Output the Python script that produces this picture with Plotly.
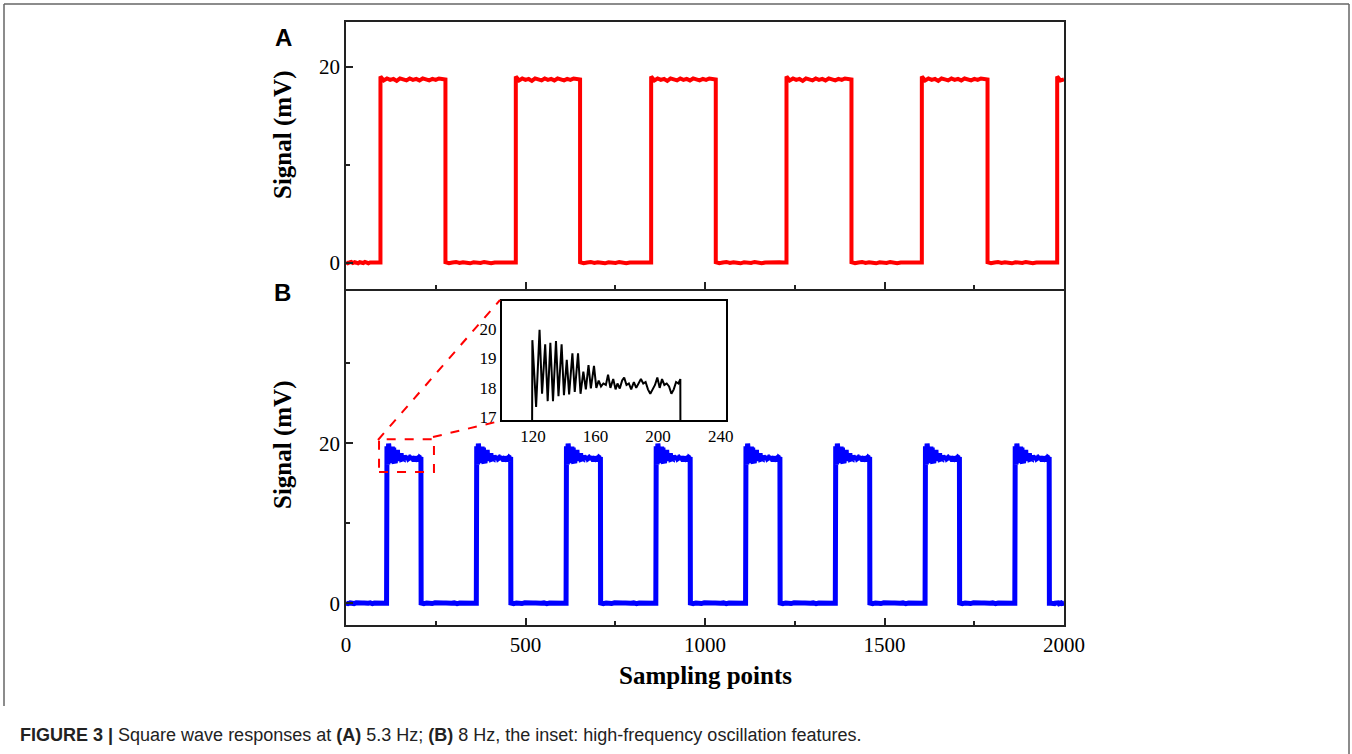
import plotly.graph_objects as go

# ---------------- data ----------------
# Panel A (5.3 Hz): rising / falling edges (sampling points) and levels (mV)
A_rise = [96, 473, 850, 1227, 1604, 1981]
A_fall = [277, 652, 1030, 1408, 1787]
A_top_y = [19.0, 18.6, 18.8, 18.65, 18.75, 18.55, 18.8, 18.7, 18.6, 18.8,
           18.65, 18.75, 18.6, 18.8, 18.7, 18.6, 18.75, 18.65, 18.8, 18.7]
A_low_y = [0.05, -0.05, 0.03, 0.08, -0.03, 0.05, 0.0, -0.06, 0.05, 0.02,
           -0.03, 0.08, 0.0, -0.05, 0.03, 0.05, -0.03, 0.0, 0.05, 0.03]

# Panel B (8 Hz): rising edges and baseline
B_rise = [113, 363, 613, 863, 1113, 1363, 1613, 1863]
B_low_y = [0.03, -0.05, 0.05, 0.0, -0.03, 0.06, 0.0, -0.05, 0.03, 0.05,
           -0.03, 0.0, 0.05, -0.05, 0.03, 0.0, 0.05, -0.03, 0.03, 0.0]

# Inset: one pulse top (high-frequency oscillation)
inset_x = [100, 118.5, 119.6, 122.0, 124.2, 125.8, 127.8, 129.4, 131.1, 132.8,
           134.7, 136.3, 138.3, 139.8, 141.6, 143.1, 145.2, 146.7, 148.8, 150.4,
           152.2, 153.8, 155.5, 157.0, 159.0, 160.5, 162.0, 163.5, 165.0, 166.6,
           168.0, 169.5, 171.3, 172.8, 174.0, 175.5, 177.0, 178.3, 179.8, 181.3,
           182.8, 184.5, 186.0, 187.5, 189.0, 190.5, 192.0, 193.5, 195.0, 196.5,
           198.0, 199.5, 201.0, 202.5, 204.0, 205.5, 207.0, 208.5, 210.0, 211.5,
           213.0, 214.2, 214.8, 240]
inset_y = [0.05, 0.1, 19.62, 17.35, 19.97, 17.8, 19.48, 17.55, 19.53, 17.55,
           19.59, 17.72, 19.48, 17.75, 18.95, 17.78, 19.17, 17.86, 19.17, 17.8,
           18.55, 17.95, 18.77, 17.98, 18.75, 18.0, 18.25, 18.05, 18.15, 18.1,
           18.45, 18.0, 18.3, 17.95, 18.15, 17.98, 18.25, 18.35, 18.1, 18.15,
           17.95, 18.2, 18.0, 18.15, 18.3, 18.15, 18.2, 17.95, 17.8, 17.95,
           18.1, 18.35, 18.0, 18.3, 18.1, 18.15, 18.05, 17.8, 17.95, 18.2,
           18.15, 18.3, 0.1, 0.05]

x_ticks = [0, 500, 1000, 1500, 2000]
y_ticks = [0, 20]
inset_xticks = [120, 160, 200, 240]
inset_yticks = [17, 18, 19, 20]

# ---------------- build waveforms ----------------
def plateau(x0, x1, ys):
    n = len(ys)
    return [x0 + (x1 - x0) * i / n for i in range(n)], list(ys)

ax_, ay_ = [], []
edges = [0]
for i, r in enumerate(A_rise):
    px, py = plateau(edges[-1], r, A_low_y)
    ax_ += px + [r]; ay_ += py + [A_low_y[-1]]
    if i < len(A_fall):
        end = A_fall[i]
        px, py = plateau(r, end, A_top_y)
    else:
        end = 2000
        px, py = [r, 1990], [A_top_y[0], A_top_y[1]]
    ax_ += px + [end]; ay_ += py + [A_top_y[-1]]
    edges.append(end)

rise0 = inset_x[1]
top_x = [x for x, y in zip(inset_x, inset_y) if y > 10]
top_y = [y for y in inset_y if y > 10]
fall_off = inset_x[-2] - rise0
bx_, by_ = [], []
prev = 0
for r in B_rise:
    px, py = plateau(prev, r, B_low_y)
    bx_ += px + [r]; by_ += py + [B_low_y[-1]]
    bx_ += [r + (x - rise0) for x in top_x]; by_ += top_y
    f = r + fall_off
    bx_ += [f]; by_ += [B_low_y[0]]
    prev = f
px, py = plateau(prev, 2000, B_low_y)
bx_ += px + [2000]; by_ += py + [B_low_y[-1]]

# ---------------- layout geometry (pixels) ----------------
W, H = 1352, 754
L, R, T, B = 346, 1064, 22, 625
SPLIT = 289
pw, ph = R - L, B - T

def pxx(p):
    return (p - L) / pw

def pxy(p):
    return (B - p) / ph

dA = [pxy(SPLIT), 1.0]
dB = [0.0, pxy(SPLIT)]

fig = go.Figure()
fig.add_trace(go.Scatter(x=ax_, y=ay_, mode="lines", line=dict(color="#ff0000", width=4),
                         xaxis="x", yaxis="y", showlegend=False))
fig.add_trace(go.Scatter(x=bx_, y=by_, mode="lines", line=dict(color="#0000ff", width=5),
                         xaxis="x2", yaxis="y2", showlegend=False))
fig.add_trace(go.Scatter(x=inset_x, y=inset_y, mode="lines", line=dict(color="black", width=2),
                         xaxis="x3", yaxis="y3", showlegend=False))

tickfont = dict(family="Liberation Serif", size=21, color="black")
base = dict(showline=True, linecolor="#222", linewidth=1.5, showgrid=False, zeroline=False)
tk = dict(ticks="inside", ticklen=7, tickcolor="#222", tickwidth=1.5)

fig.update_layout(
    width=W, height=H, margin=dict(l=L, r=W - R, t=T, b=H - B),
    paper_bgcolor="white", plot_bgcolor="white",
    xaxis=dict(domain=[0, 1], range=[0, 2000], anchor="y", tickvals=x_ticks, showticklabels=False,
               mirror=True,
               minor=dict(dtick=250, tick0=0, ticks="inside", ticklen=4, tickcolor="#222"), **tk, **base),
    yaxis=dict(domain=dA, range=[-2.68, 24.56], anchor="x", tickvals=y_ticks, tickfont=tickfont,
               mirror=True,
               minor=dict(dtick=10, tick0=0, ticks="inside", ticklen=4, tickcolor="#222"), **tk, **base),
    xaxis2=dict(domain=[0, 1], range=[0, 2000], anchor="y2", tickvals=x_ticks, tickfont=tickfont,
                mirror=False,
                minor=dict(dtick=250, tick0=0, ticks="inside", ticklen=4, tickcolor="#222"), **tk, **base),
    yaxis2=dict(domain=dB, range=[-2.71, 39.29], anchor="x2", tickvals=y_ticks, tickfont=tickfont,
                mirror=True,
                minor=dict(dtick=10, tick0=0, ticks="inside", ticklen=4, tickcolor="#222"), **tk, **base),
    xaxis3=dict(domain=[pxx(501.7), pxx(726)], range=[100, 243.4], anchor="y3", tickvals=inset_xticks,
                ticks="", tickfont=dict(family="Liberation Serif", size=17, color="black"),
                showline=True, linecolor="black", linewidth=1.5, mirror=True, showgrid=False, zeroline=False),
    yaxis3=dict(domain=[pxy(420), pxy(301)], range=[16.91, 20.95], anchor="x3", tickvals=inset_yticks,
                ticks="", tickfont=dict(family="Liberation Serif", size=17, color="black"),
                showline=True, linecolor="black", linewidth=1.5, mirror=True, showgrid=False, zeroline=False),
)

shapes = [
    dict(type="rect", xref="x2", yref="y2", x0=92, x1=245, y0=16.4, y1=20.5,
         line=dict(color="#ff0000", width=2, dash="dash")),
    dict(type="line", xref="paper", yref="paper", x0=pxx(378), y0=pxy(440), x1=pxx(500), y1=pxy(300),
         line=dict(color="#ff0000", width=2, dash="dash")),
    dict(type="line", xref="paper", yref="paper", x0=pxx(433), y0=pxy(437), x1=pxx(500), y1=pxy(421),
         line=dict(color="#ff0000", width=2, dash="dash")),
    dict(type="line", xref="paper", yref="paper", x0=pxx(4), y0=pxy(4), x1=pxx(1349), y1=pxy(4),
         line=dict(color="#666", width=1.5)),
    dict(type="line", xref="paper", yref="paper", x0=pxx(4), y0=pxy(4), x1=pxx(4), y1=pxy(706),
         line=dict(color="#666", width=1.5)),
    dict(type="line", xref="paper", yref="paper", x0=pxx(1349), y0=pxy(4), x1=pxx(1349), y1=pxy(760),
         line=dict(color="#666", width=1.5)),
]
fig.update_layout(shapes=shapes)

lab = dict(family="Liberation Serif", size=25, color="black")
ann = [
    dict(text="<b>Signal (mV)</b>", x=pxx(283), y=pxy(135), textangle=-90, font=lab),
    dict(text="<b>Signal (mV)</b>", x=pxx(283), y=pxy(445), textangle=-90, font=lab),
    dict(text="<b>Sampling points</b>", x=pxx(705), y=pxy(675), font=lab),
    dict(text="<b>A</b>", x=pxx(283), y=pxy(38), font=dict(family="Liberation Sans", size=24, color="black")),
    dict(text="<b>B</b>", x=pxx(282), y=pxy(292), font=dict(family="Liberation Sans", size=24, color="black")),
    dict(text="<b>FIGURE 3 |</b> Square wave responses at <b>(A)</b> 5.3 Hz; <b>(B)</b> 8 Hz, the inset: high-frequency oscillation features.",
         x=pxx(18), y=pxy(735), xanchor="left", font=dict(family="Liberation Sans", size=18, color="#222")),
]
for a in ann:
    a.update(xref="paper", yref="paper", showarrow=False)
    a.setdefault("xanchor", "center")
    a.setdefault("yanchor", "middle")
fig.update_layout(annotations=ann)

fig.write_html("out.html", config={"displayModeBar": False},
               post_script="document.body.style.margin='0px';document.body.style.overflow='hidden';")
